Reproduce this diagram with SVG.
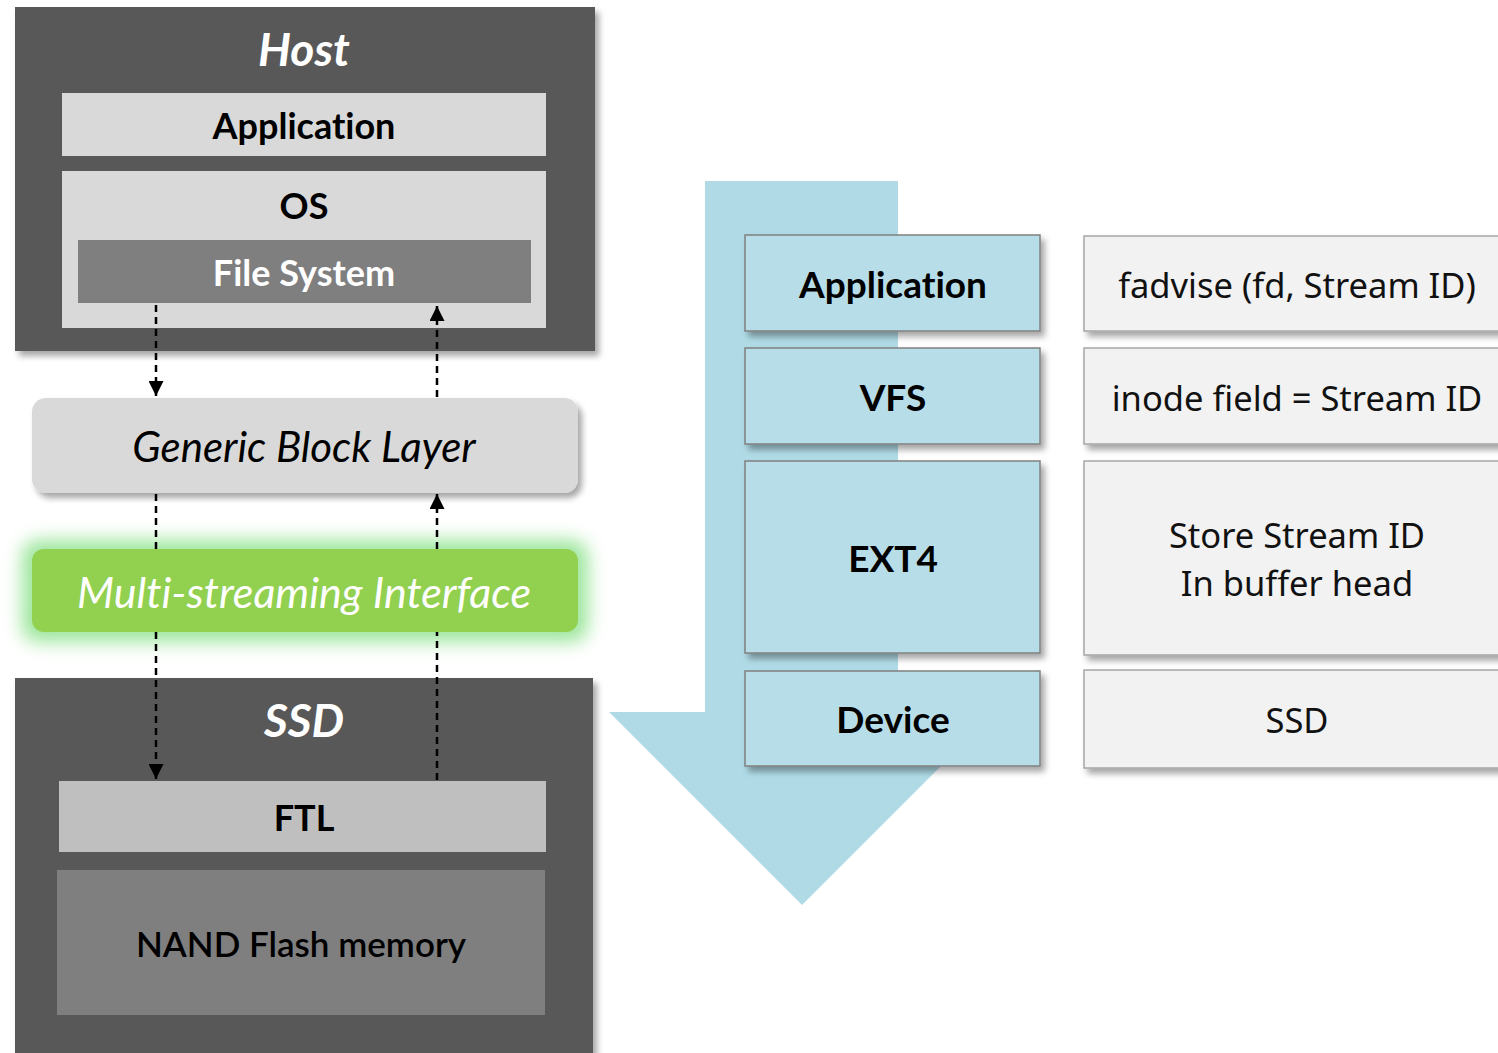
<svg xmlns="http://www.w3.org/2000/svg" width="1498" height="1053" viewBox="0 0 1498 1053">
<style>
.lbl{font-family:Lato,"Open Sans","Liberation Sans",sans-serif;text-anchor:middle;dominant-baseline:central;font-variant-ligatures:none}
.b{font-weight:bold}
.wt{fill:#ffffff}
.bk{fill:#000000}
.rt{font-family:"Noto Sans","Open Sans","Liberation Sans",sans-serif;text-anchor:middle;dominant-baseline:central;fill:#111111;font-variant-ligatures:none}
.blue{fill:#b7dde8;stroke:#808080;stroke-width:1.5}
.grey{fill:#f2f2f2;stroke:#a6a6a6;stroke-width:1.5}
.dash{fill:none;stroke:#000;stroke-width:2.5;stroke-dasharray:7,5}
</style>
<defs>
<filter id="sh" x="-10%" y="-10%" width="125%" height="130%">
<feDropShadow dx="4" dy="5" stdDeviation="3" flood-color="#000" flood-opacity="0.35"/>
</filter>
<filter id="glow" x="-20%" y="-60%" width="140%" height="220%">
<feGaussianBlur stdDeviation="9"/>
</filter>
<marker id="ah" viewBox="0 0 10 10" refX="10" refY="5" markerWidth="6" markerHeight="6" orient="auto" markerUnits="strokeWidth">
<path d="M0,0 L10,5 L0,10 z" fill="#000"/>
</marker>
</defs>
<rect width="1498" height="1053" fill="#ffffff"/>

<g id="host">
<rect x="15" y="7" width="580" height="344" fill="#595959" filter="url(#sh)"/>
<text class="lbl b wt" x="304" y="48" font-size="46" font-style="italic">Host</text>
</g>
<g id="host-application">
<rect x="62" y="93" width="484" height="63" fill="#d9d9d9"/>
<text class="lbl b bk" x="304" y="125" font-size="36">Application</text>
</g>
<g id="os">
<rect x="62" y="171" width="484" height="157" fill="#d9d9d9"/>
<text class="lbl b bk" x="304" y="205" font-size="36">OS</text>
</g>
<g id="file-system">
<rect x="78" y="240" width="453" height="63" fill="#7f7f7f"/>
<text class="lbl b wt" x="304" y="272" font-size="36">File System</text>
</g>

<g id="multi-streaming-interface">
<rect x="22" y="540" width="566" height="102" rx="16" fill="#4cd04a" opacity="0.55" filter="url(#glow)"/>
<rect x="32" y="549" width="546" height="83" rx="12" fill="#92d050"/>
<text class="lbl wt" x="304" y="591" font-size="43" font-style="italic">Multi-streaming Interface</text>
</g>

<g id="generic-block-layer">
<rect x="32" y="398" width="546" height="95" rx="14" fill="#d9d9d9" filter="url(#sh)"/>
<text class="lbl bk" x="304" y="446" font-size="42" font-style="italic">Generic Block Layer</text>
</g>

<g id="ssd">
<rect x="15" y="678" width="578" height="380" fill="#595959" filter="url(#sh)"/>
<text class="lbl b wt" x="304" y="719" font-size="46" font-style="italic">SSD</text>
</g>
<g id="ftl">
<rect x="59" y="781" width="487" height="71" fill="#bfbfbf"/>
<text class="lbl b bk" x="304" y="817" font-size="36">FTL</text>
</g>
<g id="nand">
<rect x="57" y="870" width="488" height="145" fill="#7f7f7f"/>
<text class="lbl bk" x="301" y="943" font-size="35" font-weight="600">NAND Flash memory</text>
</g>

<g id="connectors">
<line class="dash" x1="156" y1="305" x2="156" y2="396" marker-end="url(#ah)"/>
<line class="dash" x1="437" y1="397" x2="437" y2="306" marker-end="url(#ah)"/>
<line class="dash" x1="156" y1="494" x2="156" y2="549"/>
<line class="dash" x1="156" y1="632" x2="156" y2="779" marker-end="url(#ah)"/>
<line class="dash" x1="437" y1="780" x2="437" y2="632"/>
<line class="dash" x1="437" y1="549" x2="437" y2="494" marker-end="url(#ah)"/>
</g>

<g id="flow-arrow">
<path d="M705,181 L898,181 L898,712 L995,712 L802,905 L609,712 L705,712 Z" fill="#b0dbe6"/>
</g>

<g id="app">
<rect class="blue" x="745" y="235" width="295" height="96" filter="url(#sh)"/>
<text class="lbl b bk" x="893" y="283" font-size="37">Application</text>
</g>
<g id="vfs">
<rect class="blue" x="745" y="348" width="295" height="96" filter="url(#sh)"/>
<text class="lbl b bk" x="893" y="396" font-size="37">VFS</text>
</g>
<g id="ext4">
<rect class="blue" x="745" y="461" width="295" height="192" filter="url(#sh)"/>
<text class="lbl b bk" x="893" y="557" font-size="37">EXT4</text>
</g>
<g id="device">
<rect class="blue" x="745" y="671" width="295" height="95" filter="url(#sh)"/>
<text class="lbl b bk" x="893" y="718" font-size="37">Device</text>
</g>

<g id="fadvise">
<rect class="grey" x="1084" y="236" width="420" height="95" filter="url(#sh)"/>
<text class="rt" x="1297" y="284" font-size="34.5">fadvise (fd, Stream ID)</text>
</g>
<g id="inode">
<rect class="grey" x="1084" y="348" width="420" height="96" filter="url(#sh)"/>
<text class="rt" x="1297" y="397" font-size="34.5">inode field = Stream ID</text>
</g>
<g id="store">
<rect class="grey" x="1084" y="461" width="420" height="194" filter="url(#sh)"/>
<text class="rt" x="1297" y="534" font-size="34.5">Store Stream ID</text>
<text class="rt" x="1297" y="582" font-size="34.5">In buffer head</text>
</g>
<g id="ssd-label">
<rect class="grey" x="1084" y="670" width="420" height="98" filter="url(#sh)"/>
<text class="rt" x="1297" y="719" font-size="34.5">SSD</text>
</g>
</svg>
